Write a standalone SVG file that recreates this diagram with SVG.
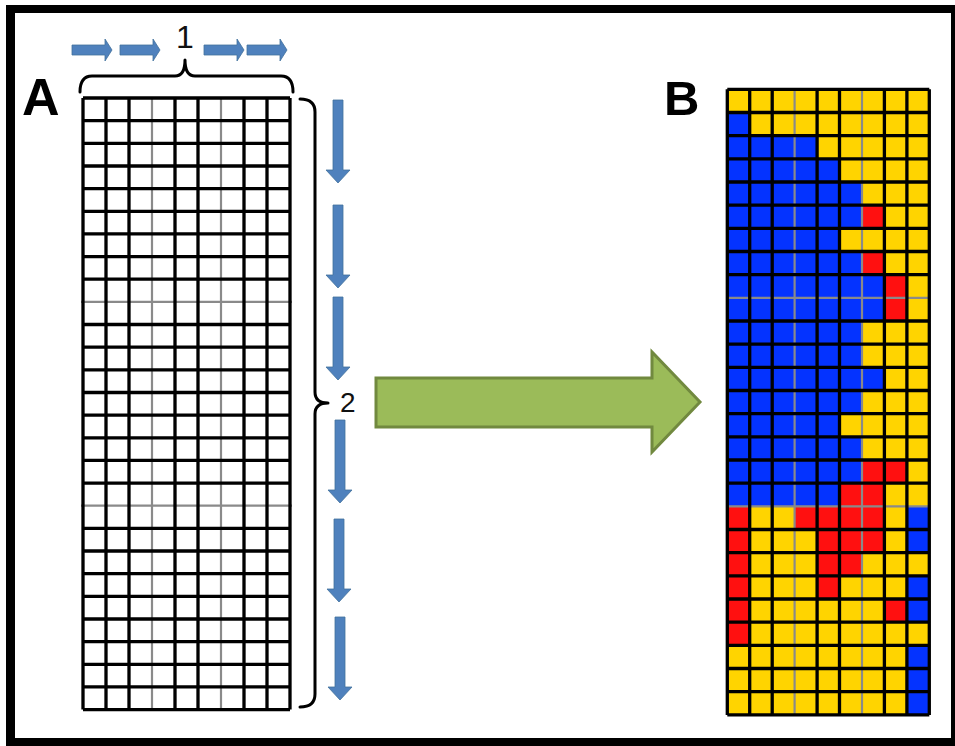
<svg xmlns="http://www.w3.org/2000/svg" width="955" height="746" viewBox="0 0 955 746">
<style>
.lbl{font-family:"Liberation Sans",Arial,sans-serif;font-weight:bold;fill:#000}
.num{font-family:"Liberation Sans",Arial,sans-serif;fill:#111}
.grid{fill:none;stroke:#000;stroke-width:3.3}
.gray{fill:none;stroke:#8a8a8a;stroke-width:2.2}
.brace{fill:none;stroke:#000;stroke-width:3;stroke-linecap:round;stroke-linejoin:round}
.blue{fill:#4F81BD;stroke:#41719C;stroke-width:0.8}
.Y{fill:#FFD400}.B{fill:#0433FF}.R{fill:#FF1010}
</style>
<defs>
<path id="darr" d="M-5,0 V70 H-12 L0,83 L12,70 H5 V0 Z"/>
<path id="rarr" d="M0,-5 H33 V-11 L40,0 L33,11 V5 H0 Z"/>
</defs>
<rect x="6" y="5" width="949" height="741" fill="#000"/>
<rect x="15" y="13" width="936" height="725" fill="#fff"/>

<g id="labelA"><text class="lbl" x="22" y="115" font-size="52">A</text></g>
<g id="labelB"><text class="lbl" x="664" y="115" font-size="49">B</text></g>

<g id="gridA">
<rect x="83" y="98" width="207" height="611.6" fill="#fff"/>
<path class="gray" d="M152,98 V709.6 M221,98 V709.6 M81,301.9 H292 M81,505.7 H292"/>
<path class="grid" d="M83,98 V709.6 M106,98 V709.6 M129,98 V709.6 M175,98 V709.6 M198,98 V709.6 M244,98 V709.6 M267,98 V709.6 M290,98 V709.6
M83,98 H290 M83,120.7 H290 M83,143.3 H290 M83,166 H290 M83,188.6 H290 M83,211.3 H290 M83,233.9 H290 M83,256.6 H290 M83,279.2 H290
M83,324.5 H290 M83,347.2 H290 M83,369.8 H290 M83,392.5 H290 M83,415.1 H290 M83,437.8 H290 M83,460.4 H290 M83,483.1 H290
M83,528.4 H290 M83,551 H290 M83,573.7 H290 M83,596.3 H290 M83,619 H290 M83,641.6 H290 M83,664.3 H290 M83,686.9 H290 M83,709.6 H290"/>
</g>

<g id="brace1">
<path class="brace" d="M80,92 Q80,76 92,76 H175 Q185,76 185,60 Q185,76 195,76 H281 Q293,76 293,92"/>
<text class="num" x="185" y="48" font-size="32" text-anchor="middle">1</text>
</g>
<g id="brace2">
<path class="brace" d="M300,99 Q315,99 315,112 V392 Q315,403 328,403 Q315,403 315,414 V694 Q315,707 300,707"/>
<text class="num" x="340" y="412" font-size="28">2</text>
</g>

<g id="arrowsTop">
<use href="#rarr" class="blue" x="72" y="50"/>
<use href="#rarr" class="blue" x="120" y="50"/>
<use href="#rarr" class="blue" x="204" y="50"/>
<use href="#rarr" class="blue" x="247" y="50"/>
</g>
<g id="arrowsDown">
<use href="#darr" class="blue" x="338" y="100"/>
<use href="#darr" class="blue" x="338" y="205"/>
<use href="#darr" class="blue" x="338" y="297"/>
<use href="#darr" class="blue" x="340" y="420"/>
<use href="#darr" class="blue" x="339" y="519"/>
<use href="#darr" class="blue" x="340" y="617"/>
</g>

<g id="connectors">
<path d="M376,378 H652 V352 L700,402 L652,452 V427 H376 Z" fill="#9BBB59" stroke="#71893F" stroke-width="3" stroke-linejoin="miter"/>
</g>

<g id="gridB">
<rect class="Y" x="727.3" y="89.3" width="202" height="625.6"/>
<g class="B">
<rect x="727.3" y="112.5" width="22.44" height="23.2"/>
<rect x="727.3" y="135.6" width="89.8" height="23.2"/>
<rect x="727.3" y="158.8" width="112.2" height="23.2"/>
<rect x="727.3" y="182" width="134.7" height="23.2"/>
<rect x="727.3" y="205.2" width="134.7" height="23.2"/>
<rect x="727.3" y="228.3" width="112.2" height="23.2"/>
<rect x="727.3" y="251.5" width="134.7" height="23.2"/>
<rect x="727.3" y="274.7" width="157.1" height="46.3"/>
<rect x="727.3" y="321" width="134.7" height="46.3"/>
<rect x="727.3" y="367.3" width="157.1" height="23.2"/>
<rect x="727.3" y="390.5" width="134.7" height="23.2"/>
<rect x="727.3" y="413.7" width="112.2" height="23.2"/>
<rect x="727.3" y="436.9" width="134.7" height="46.3"/>
<rect x="727.3" y="483.2" width="112.2" height="23.2"/>
<rect x="906.9" y="506.4" width="22.44" height="46.3"/>
<rect x="906.9" y="575.9" width="22.44" height="46.3"/>
<rect x="906.9" y="645.4" width="22.44" height="69.5"/>
</g>
<g class="R">
<rect x="862" y="205.2" width="22.44" height="23.2"/>
<rect x="862" y="251.5" width="22.44" height="23.2"/>
<rect x="884.4" y="274.7" width="22.44" height="46.3"/>
<rect x="862" y="460" width="44.9" height="23.2"/>
<rect x="839.5" y="483.2" width="44.9" height="23.2"/>
<rect x="727.3" y="506.4" width="22.44" height="139"/>
<rect x="794.6" y="506.4" width="89.8" height="23.2"/>
<rect x="817.1" y="529.5" width="67.3" height="23.2"/>
<rect x="817.1" y="552.7" width="44.9" height="23.2"/>
<rect x="817.1" y="575.9" width="22.44" height="23.2"/>
<rect x="884.4" y="599" width="22.44" height="23.2"/>
</g>
<path class="gray" d="M794.6,89.3 V714.9 M862,89.3 V714.9 M727.3,297.8 H929.3 M727.3,506.4 H929.3"/>
<path class="grid" d="M727.3,89.3 V714.9 M749.7,89.3 V714.9 M772.2,89.3 V714.9 M817.1,89.3 V714.9 M839.5,89.3 V714.9 M884.4,89.3 V714.9 M906.9,89.3 V714.9 M929.3,89.3 V714.9
M727.3,89.3 H929.3 M727.3,112.5 H929.3 M727.3,135.6 H929.3 M727.3,158.8 H929.3 M727.3,182 H929.3 M727.3,205.2 H929.3 M727.3,228.3 H929.3 M727.3,251.5 H929.3 M727.3,274.7 H929.3
M727.3,321 H929.3 M727.3,344.2 H929.3 M727.3,367.3 H929.3 M727.3,390.5 H929.3 M727.3,413.7 H929.3 M727.3,436.9 H929.3 M727.3,460 H929.3 M727.3,483.2 H929.3
M727.3,529.5 H929.3 M727.3,552.7 H929.3 M727.3,575.9 H929.3 M727.3,599 H929.3 M727.3,622.2 H929.3 M727.3,645.4 H929.3 M727.3,668.5 H929.3 M727.3,691.7 H929.3 M727.3,714.9 H929.3"/>
</g>
</svg>
